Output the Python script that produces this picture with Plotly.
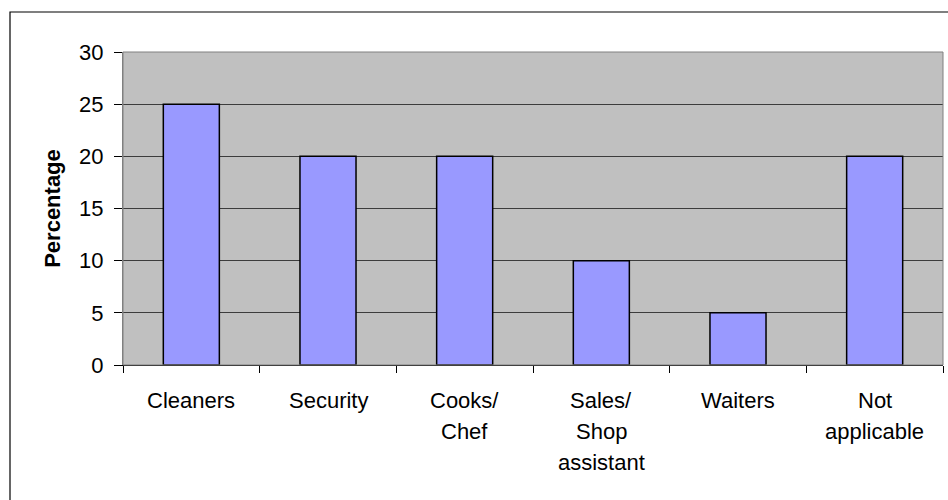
import plotly.graph_objects as go

# Occupation categories (one list per label line) and their percentages
categories = ["Cleaners", "Security", "Cooks/ Chef", "Sales/ Shop assistant", "Waiters", "Not applicable"]
label_lines = [
    ["Cleaners"],
    ["Security"],
    ["Cooks/", "Chef"],
    ["Sales/", "Shop", "assistant"],
    ["Waiters"],
    ["Not", "applicable"],
]
percentages = [25, 20, 20, 10, 5, 20]
y_ticks = [0, 5, 10, 15, 20, 25, 30]

FONT = "Liberation Sans, Arial, sans-serif"
FS = 22
W, H = 948, 500
ML, MR, MT, MB = 123, 5, 52, 135

fig = go.Figure(
    go.Bar(
        x=categories,
        y=percentages,
        marker=dict(color="#9999FF", line=dict(color="#000000", width=1.5)),
        hoverinfo="x+y",
    )
)

# Multi-line category labels, spaced wider than the default tick label leading
annotations = []
for cat, lines in zip(categories, label_lines):
    for i, line in enumerate(lines):
        annotations.append(dict(
            x=cat, xref="x", y=0, yref="paper",
            text=line, showarrow=False,
            xanchor="center", yanchor="middle",
            yshift=-(35 + i * 31),
            font=dict(family=FONT, size=FS, color="#000000"),
        ))

plot_w = W - ML - MR
plot_h = H - MT - MB
shapes = [
    # plot-area frame
    dict(type="rect", xref="paper", yref="paper", x0=0, x1=1, y0=0, y1=1,
         line=dict(color="#808080", width=1), layer="above"),
    # outer chart frame
    dict(type="rect", xref="paper", yref="paper",
         x0=(10 - ML) / plot_w, x1=(W + 5 - ML) / plot_w,
         y0=-(H + 5 - (H - MB)) / plot_h, y1=((H - MB) - 12) / plot_h,
         line=dict(color="#000000", width=1.2)),
]

fig.update_layout(
    width=W, height=H,
    margin=dict(l=ML, r=MR, t=MT, b=MB),
    paper_bgcolor="#FFFFFF",
    plot_bgcolor="#C0C0C0",
    bargap=0.59,
    showlegend=False,
    font=dict(family=FONT, size=FS, color="#000000"),
    annotations=annotations,
    shapes=shapes,
)

fig.update_xaxes(
    type="category",
    showticklabels=False,
    ticks="outside", tickson="boundaries", ticklen=7,
    tickcolor="#000000", tickwidth=1,
    showline=True, linecolor="#000000", linewidth=1,
    showgrid=False,
)

fig.update_yaxes(
    range=[0, 30],
    tickvals=y_ticks,
    ticks="outside", ticklen=8, tickcolor="#000000", tickwidth=1,
    ticklabelstandoff=6,
    showline=True, linecolor="#808080", linewidth=1,
    showgrid=True, gridcolor="#3c3c3c", gridwidth=1,
    zeroline=False,
    tickfont=dict(family=FONT, size=FS, color="#000000"),
    title=dict(text="<b>Percentage</b>", standoff=12,
               font=dict(family=FONT, size=FS, color="#000000")),
)

fig.write_html("out.html")
